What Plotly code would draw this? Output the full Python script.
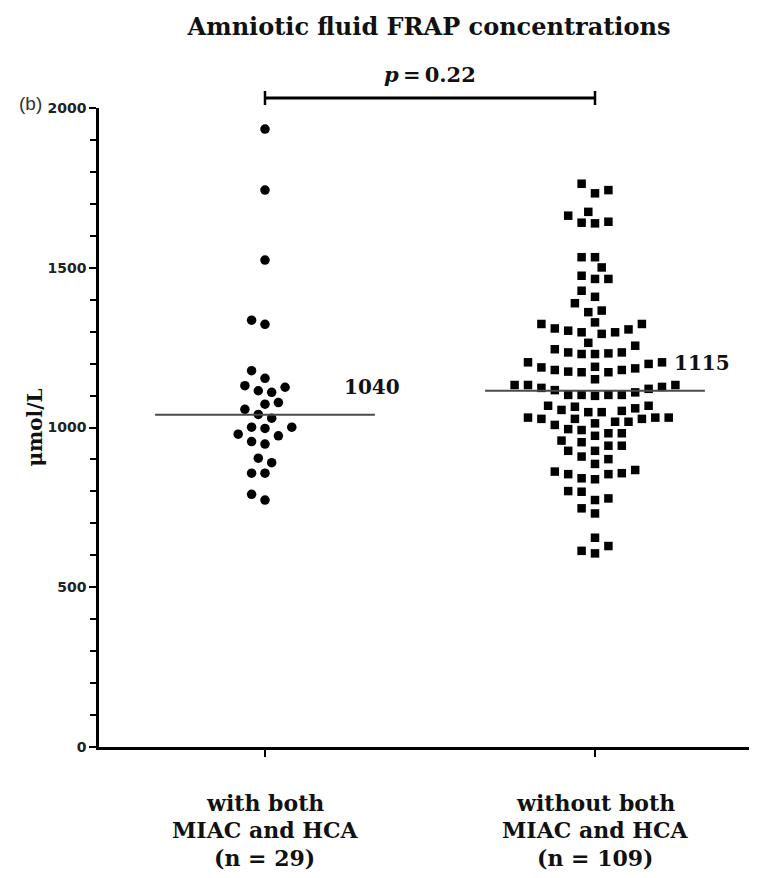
import numpy as np
import plotly.graph_objects as go

# ---------------- data ----------------
categories = ["with both", "without both"]
category_lines = [["with both", "MIAC and HCA", "(n = 29)"],
                  ["without both", "MIAC and HCA", "(n = 109)"]]

with_both = [1934, 1743, 1524, 1336, 1323, 1178, 1154, 1131, 1126, 1115,
             1110, 1078, 1073, 1057, 1041, 1029, 1001, 1001, 997, 979,
             974, 956, 948, 904, 890, 857, 857, 791, 773]

without_both = [1763, 1743, 1733,
                1675, 1663, 1644, 1641, 1639,
                1533, 1533, 1501,
                1475, 1465, 1465, 1428, 1409, 1389, 1366, 1361,
                1329, 1324, 1324, 1310, 1307, 1303, 1298, 1298, 1293,
                1265, 1256, 1245, 1235, 1235, 1232, 1230, 1230,
                1204, 1204, 1199, 1190, 1188, 1185, 1180, 1180, 1175, 1173, 1173,
                1151,
                1133, 1133, 1133, 1127, 1124, 1121, 1117, 1110, 1102, 1102, 1102, 1102, 1099,
                1068, 1068,
                1065, 1060, 1055, 1052, 1048, 1048,
                1031, 1031, 1031, 1027, 1027, 1027, 1018, 1018, 1013, 1008,
                995, 992, 982, 982, 974,
                959, 954, 943, 943, 927, 927,
                909, 901, 886,
                867, 862, 857, 854, 854, 841, 838,
                801, 799, 778, 773,
                747, 731,
                655, 629, 614, 606]

medians = [1040, 1115]
median_labels = ["1040", "1115"]
p_text = "<i>p</i>\u2009=\u20090.22"
title_text = "Amniotic fluid FRAP concentrations"
y_title = "μmol/L"
y_tickvals = [0, 500, 1000, 1500, 2000]

# ---------------- layout constants ----------------
# the page body has an 8px margin, so the figure is sized/offset to compensate
OFF = 8
W, H = 757 - OFF, 878 - 2 * OFF
ML, MR, MT = 99 - OFF, 0, 108 - OFF
X_RANGE = [-0.503, 1.4909]
Y_RANGE = [0, 2000]
plot_h = 639
MB = H - MT - plot_h
plot_w = W - ML - MR
px_per_x = plot_w / (X_RANGE[1] - X_RANGE[0])
px_per_y = plot_h / (Y_RANGE[1] - Y_RANGE[0])


def swarm_offsets(values, diameter=12.0, step=6.7):
    """Simple beeswarm: place points in ascending order at the
    closest-to-centre slot that does not collide (pixel space)."""
    vals = np.asarray(values, dtype=float)
    order = np.argsort(vals, kind="stable")
    placed = []
    offs = np.zeros(len(vals))
    for k, i in enumerate(order):
        yp = vals[i] * px_per_y
        cands = [0.0]
        for j in range(1, 60):
            if k % 2 == 0:
                cands += [j * step, -j * step]
            else:
                cands += [-j * step, j * step]
        for c in cands:
            ok = True
            for (xp0, yp0) in placed:
                if (c - xp0) ** 2 + (yp - yp0) ** 2 < diameter ** 2 - 1e-6:
                    ok = False
                    break
            if ok:
                break
        placed.append((c, yp))
        offs[i] = c
    return offs / px_per_x


groups = [with_both, without_both]
symbols = ["circle", "square"]
sizes = [9.5, 8.5]
serif = "DejaVu Serif"

fig = go.Figure()
for gi, vals in enumerate(groups):
    xo = swarm_offsets(vals)
    fig.add_trace(go.Scatter(
        x=gi + xo, y=vals, mode="markers",
        marker=dict(symbol=symbols[gi], size=sizes[gi], color="black",
                    line=dict(width=0)),
        cliponaxis=False, showlegend=False, name=categories[gi]))

# median lines
for gi, m in enumerate(medians):
    fig.add_trace(go.Scatter(
        x=[gi - 0.333, gi + 0.333], y=[m, m], mode="lines",
        line=dict(color="#4a4a4a", width=2), showlegend=False,
        hoverinfo="skip"))
    fig.add_annotation(x=gi + 0.233, y=m + 88, xref="x", yref="y",
                       text="<b>%s</b>" % median_labels[gi], showarrow=False,
                       xanchor="left", yanchor="middle",
                       font=dict(family=serif, size=20, color="#111"))


def xpaper(v):
    return (v - X_RANGE[0]) / (X_RANGE[1] - X_RANGE[0])


# significance bracket
yb = 1 + 10 / plot_h
fig.add_shape(type="line", xref="paper", yref="paper", x0=xpaper(0), x1=xpaper(1),
              y0=yb, y1=yb, line=dict(color="black", width=3))
for g in (0, 1):
    fig.add_shape(type="line", xref="paper", yref="paper", x0=xpaper(g), x1=xpaper(g),
                  y0=1 + 3 / plot_h, y1=1 + 17 / plot_h,
                  line=dict(color="black", width=2.5))
fig.add_annotation(x=0.5, y=1 + 33 / plot_h, xref="x", yref="paper",
                   text="<b>%s</b>" % p_text, showarrow=False,
                   xanchor="center", yanchor="middle",
                   font=dict(family=serif, size=21, color="#111"))

# (b) panel label
fig.add_annotation(x=-82 / plot_w, y=1 + 4 / plot_h, xref="paper", yref="paper",
                   text="(b)", showarrow=False, xanchor="left", yanchor="middle",
                   font=dict(family="Liberation Sans", size=19, color="#333"))

# category labels (three lines each)
line_px = [56, 83, 111]
for gi, lines in enumerate(category_lines):
    for li, t in enumerate(lines):
        fig.add_annotation(x=gi, y=-line_px[li] / plot_h, xref="x", yref="paper",
                           text="<b>%s</b>" % t, showarrow=False,
                           xanchor="center", yanchor="middle",
                           font=dict(family=serif, size=22, color="#111"))

fig.update_layout(
    width=W, height=H,
    margin=dict(l=ML, r=MR, t=MT, b=MB, pad=0),
    paper_bgcolor="white", plot_bgcolor="white",
    title=dict(text="<b>%s</b>" % title_text, x=(429 - OFF) / W, xanchor="center",
               xref="container", y=1 - (27 - OFF) / H, yanchor="middle", yref="container",
               font=dict(family=serif, size=24, color="#111")),
    xaxis=dict(range=X_RANGE, showgrid=False, zeroline=False,
               tickvals=[0, 1], ticktext=["", ""], ticks="outside",
               ticklen=7, tickwidth=2, tickcolor="black",
               showline=True, linecolor="black", linewidth=2.5),
    yaxis=dict(range=Y_RANGE, showgrid=False, zeroline=False,
               tickvals=y_tickvals, ticks="outside", ticklen=7, tickwidth=2,
               tickcolor="black", showline=True, linecolor="black", linewidth=2.5,
               tickfont=dict(family="DejaVu Sans", size=14, color="#222",
                             weight="bold"),
               tickformat="d",
               minor=dict(dtick=100, ticks="outside", ticklen=6, tickwidth=2,
                          tickcolor="black", showgrid=False),
               title=dict(text="<b>%s</b>" % y_title, standoff=0,
                          font=dict(family=serif, size=20, color="#111"))),
)

fig.write_html("out.html")
